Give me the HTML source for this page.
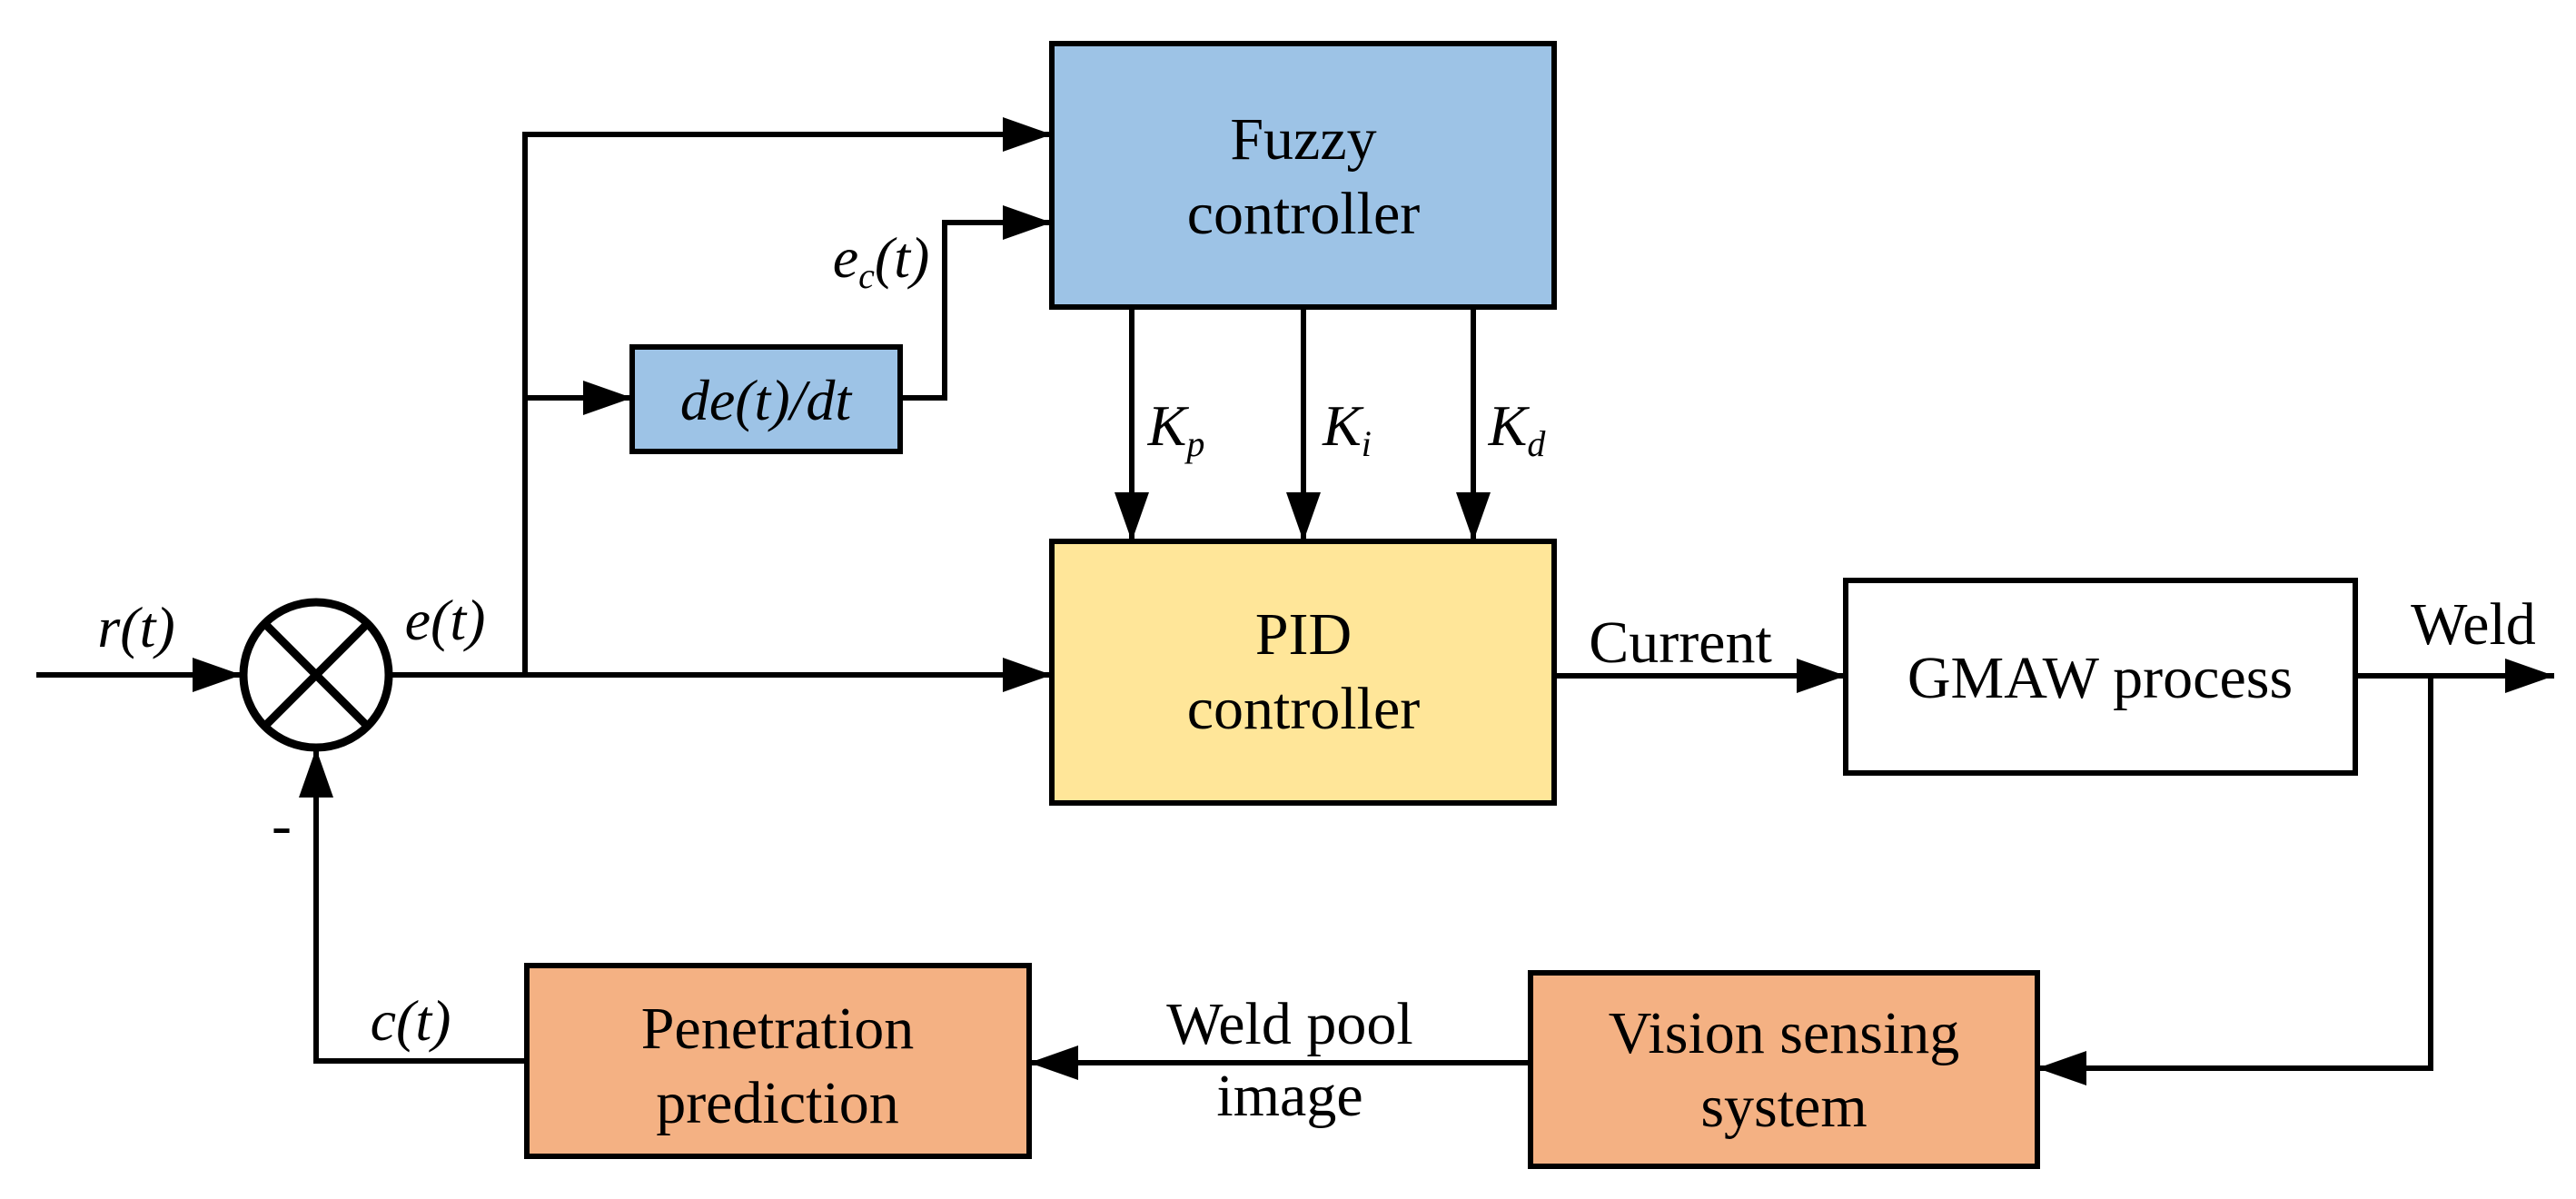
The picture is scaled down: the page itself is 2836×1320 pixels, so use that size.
<!DOCTYPE html>
<html><head><meta charset="utf-8"><style>
html,body{margin:0;padding:0;background:#fff;}
svg{display:block;font-family:"Liberation Serif","Times New Roman",serif}
svg text{font-family:"Liberation Serif","Times New Roman",serif !important;fill:#000}
</style></head><body>
<svg width="2836" height="1320" viewBox="0 0 2836 1320" xmlns="http://www.w3.org/2000/svg" font-family="Liberation Serif, serif">
<defs>
<marker id="a" markerWidth="54" markerHeight="38" refX="54" refY="19" orient="auto" markerUnits="userSpaceOnUse">
<path d="M0,0 L54,19 L0,38 z" fill="#000"/></marker>
</defs>
<g stroke="#000" stroke-width="6" fill="none">
<rect x="1158" y="48" width="553" height="290" fill="#9dc3e6"/>
<rect x="696" y="382" width="295" height="115" fill="#9dc3e6"/>
<rect x="1158" y="596" width="553" height="288" fill="#ffe699"/>
<rect x="2032" y="639" width="561" height="212" fill="#fff"/>
<rect x="580" y="1063" width="553" height="210" fill="#f4b183"/>
<rect x="1685" y="1071" width="558" height="213" fill="#f4b183"/>
<circle cx="348" cy="743" r="80" stroke-width="9" fill="#fff"/>
<line x1="292" y1="687" x2="404" y2="799" stroke-width="9"/>
<line x1="404" y1="687" x2="292" y2="799" stroke-width="9"/>
<line x1="40" y1="743" x2="266" y2="743" marker-end="url(#a)"/>
<line x1="428" y1="743" x2="1158" y2="743" marker-end="url(#a)"/>
<polyline points="578,743 578,148 1158,148" marker-end="url(#a)"/>
<line x1="578" y1="438" x2="696" y2="438" marker-end="url(#a)"/>
<polyline points="991,438 1040,438 1040,245 1158,245" marker-end="url(#a)"/>
<line x1="1246" y1="338" x2="1246" y2="596" marker-end="url(#a)"/>
<line x1="1435" y1="338" x2="1435" y2="596" marker-end="url(#a)"/>
<line x1="1622" y1="338" x2="1622" y2="596" marker-end="url(#a)"/>
<line x1="1711" y1="744" x2="2032" y2="744" marker-end="url(#a)"/>
<line x1="2593" y1="744" x2="2812" y2="744" marker-end="url(#a)"/>
<polyline points="2676,744 2676,1176 2243,1176" marker-end="url(#a)"/>
<line x1="1685" y1="1170" x2="1133" y2="1170" marker-end="url(#a)"/>
<polyline points="580,1168 348,1168 348,824" marker-end="url(#a)"/>
</g>
<g font-size="66" text-anchor="middle" font-family="Liberation Serif, serif">
<text x="1435" y="175">Fuzzy</text>
<text x="1435" y="257">controller</text>
<text x="1435" y="720">PID</text>
<text x="1435" y="802">controller</text>
<text x="2312" y="768">GMAW process</text>
<text x="856" y="1154">Penetration</text>
<text x="856" y="1236">prediction</text>
<text x="1964" y="1159">Vision sensing</text>
<text x="1964" y="1240">system</text>
<text x="1420" y="1149">Weld pool</text>
<text x="1420" y="1228">image</text>
<text x="1850" y="729">Current</text>
<text x="2723" y="709">Weld</text>
<text x="310" y="930">-</text>
</g>
<g font-size="64" font-style="italic" text-anchor="middle" font-family="Liberation Serif, serif">
<text x="843" y="462">de(t)/dt</text>
<text x="150" y="712">r(t)</text>
<text x="490" y="704">e(t)</text>
<text x="452" y="1145">c(t)</text>
<text x="970" y="305">e<tspan font-size="40" dy="12">c</tspan><tspan dy="-12">(t)</tspan></text>
<text x="1295" y="490">K<tspan font-size="40" dy="12">p</tspan></text>
<text x="1483" y="490">K<tspan font-size="40" dy="12">i</tspan></text>
<text x="1670" y="490">K<tspan font-size="40" dy="12">d</tspan></text>
</g>
</svg>
</body></html>
